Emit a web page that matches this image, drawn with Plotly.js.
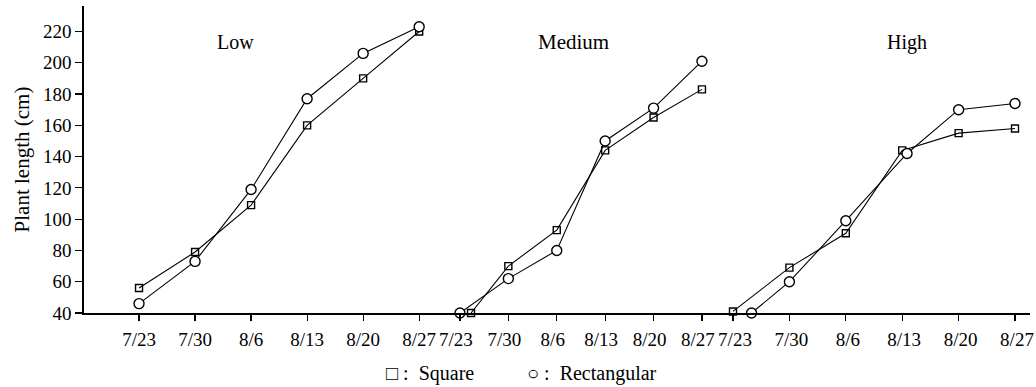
<!DOCTYPE html>
<html>
<head>
<meta charset="utf-8">
<script src="https://cdn.plot.ly/plotly-3.0.1.min.js"></script>
<style>html,body{margin:0;padding:0;background:#fff;}#chart{width:1036px;height:387px;}</style>
</head>
<body>
<div id="chart"></div>
<script>
// Sampling dates (tick labels) and days since 7/23
const dateLabels = ['7/23', '7/30', '8/6', '8/13', '8/20', '8/27'];
const dateDays = [0, 7, 14, 21, 28, 35];

// Panel names
const panels = ['Low', 'Medium', 'High'];

// Plant length (cm) — Square (□) and Rectangular (○)
const lowSquare = [56, 79, 109, 160, 190, 220];
const lowRect = [46, 73, 119, 177, 206, 223];
const medSquare = [40, 70, 93, 144, 165, 183];
const medRect = [40, 62, 80, 150, 171, 201];
const highSquare = [41, 69, 91, 144, 155, 158];
const highRect = [40, 60, 99, 142, 170, 174];

// Plotted day positions (first points are drawn slightly offset in the source)
const lowSquareDays = [0, 7, 14, 21, 28, 35];
const lowRectDays = [0, 7, 14, 21, 28, 35];
const medSquareDays = [1.6, 7, 14, 21, 28, 35];
const medRectDays = [0, 7, 14, 21, 28, 35];
const highSquareDays = [0, 7, 14, 21, 28, 35];
const highRectDays = [2.3, 7, 14, 21.6, 28, 35];

const yTicks = [40, 60, 80, 100, 120, 140, 160, 180, 200, 220];

const legendSquare = '\u25A1 :  Square';
const legendRect = '\u25CB :  Rectangular';

const serif = 'Liberation Serif, Times New Roman, serif';

function sq(x, y, xa) {
  return {x: x, y: y, xaxis: xa, yaxis: 'y', type: 'scatter', mode: 'lines+markers',
    line: {color: '#000', width: 1.1},
    marker: {symbol: 'square-open', size: 7, color: '#000', line: {width: 1.4, color: '#000'}},
    showlegend: false, cliponaxis: false};
}
function ci(x, y, xa) {
  return {x: x, y: y, xaxis: xa, yaxis: 'y', type: 'scatter', mode: 'lines+markers',
    line: {color: '#000', width: 1.1},
    marker: {symbol: 'circle', size: 10, color: '#fff', line: {width: 1.4, color: '#000'}},
    showlegend: false, cliponaxis: false};
}

const data = [
  sq(lowSquareDays, lowSquare, 'x'), ci(lowRectDays, lowRect, 'x'),
  sq(medSquareDays, medSquare, 'x2'), ci(medRectDays, medRect, 'x2'),
  sq(highSquareDays, highSquare, 'x3'), ci(highRectDays, highRect, 'x3')
];

function xax(domain, range, shift) {
  return {domain: domain, range: range, anchor: 'y', showgrid: false, zeroline: false,
    showline: true, linecolor: '#000', linewidth: 1.6,
    ticks: 'outside', ticklen: 6, tickwidth: 1.2, tickcolor: '#000',
    tickvals: dateDays, ticktext: dateLabels,
    ticklabelstandoff: 3, ticklabelshift: shift,
    tickfont: {family: serif, size: 19, color: '#000'}};
}

const layout = {
  width: 1036, height: 387,
  margin: {l: 84, r: 6, t: 6, b: 74},
  paper_bgcolor: '#fff', plot_bgcolor: '#fff',
  showlegend: false,
  xaxis: xax([0, 0.3763], [-6.875, 37.6], 0),
  xaxis2: xax([0.3763, 0.6691], [-2.89, 37.17], -4),
  xaxis3: xax([0.6691, 1], [-1.99, 36.86], 2),
  yaxis: {range: [40, 236.3], showgrid: false, zeroline: false,
    showline: true, linecolor: '#000', linewidth: 1.6,
    ticks: 'outside', ticklen: 7, tickwidth: 1.2, tickcolor: '#000',
    tickvals: yTicks, tickfont: {family: serif, size: 19, color: '#000'},
    title: {text: 'Plant length (cm)', standoff: 8, font: {family: serif, size: 21, color: '#000'}}},
  annotations: [
    {text: panels[0], xref: 'x', yref: 'y', x: 12, y: 213, showarrow: false, font: {family: serif, size: 20, color: '#000'}},
    {text: panels[1], xref: 'x2', yref: 'y', x: 16.4, y: 213, showarrow: false, font: {family: serif, size: 21, color: '#000'}},
    {text: panels[2], xref: 'x3', yref: 'y', x: 21.6, y: 213, showarrow: false, font: {family: serif, size: 20, color: '#000'}},
    {text: legendSquare, xref: 'paper', yref: 'paper', x: 0.3171, y: -0.197, yanchor: 'middle', xanchor: 'left', showarrow: false, font: {family: serif, size: 20, color: '#000'}},
    {text: legendRect, xref: 'paper', yref: 'paper', x: 0.4662, y: -0.197, yanchor: 'middle', xanchor: 'left', showarrow: false, font: {family: serif, size: 20, color: '#000'}}
  ]
};

Plotly.newPlot('chart', data, layout, {displayModeBar: false, staticPlot: true});
</script>
</body>
</html>
